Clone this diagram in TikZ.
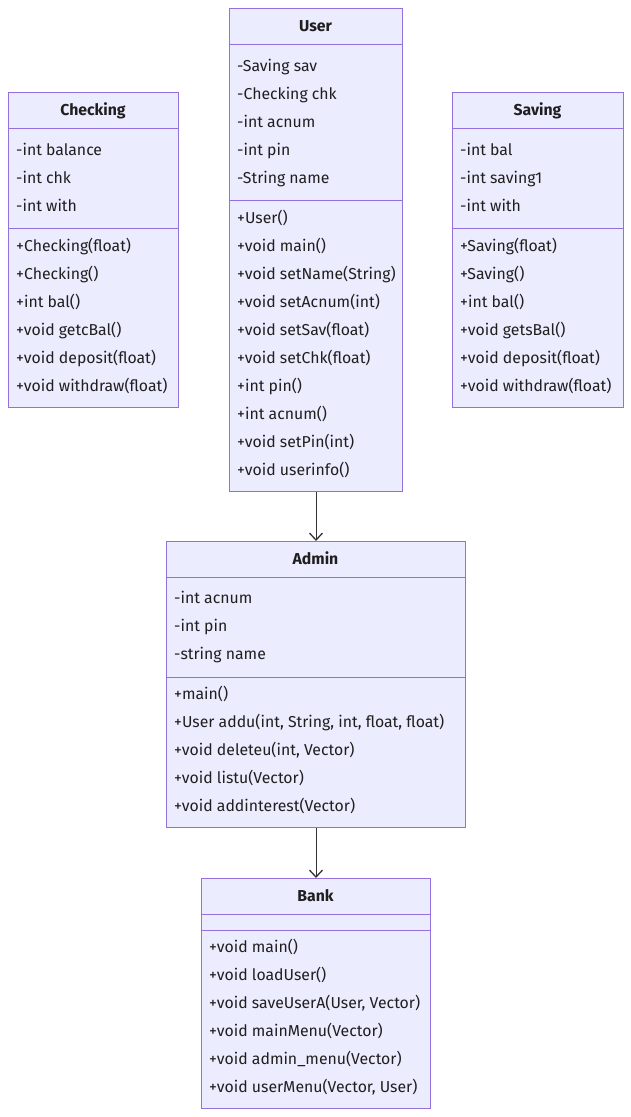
\documentclass[tikz,border=0pt]{standalone}
\usepackage{fontspec}
\setmainfont{Fira Sans}
\usetikzlibrary{arrows.meta}
\definecolor{boxfill}{HTML}{ECECFF}
\definecolor{boxline}{HTML}{9370DB}
\definecolor{txt}{HTML}{1F1F1F}
\definecolor{edge}{HTML}{333333}
\tikzset{
  classbox/.style={draw=boxline, fill=boxfill, line width=1pt, inner sep=0pt, anchor=north west},
  divline/.style={draw=boxline, line width=1pt},
  member/.style={anchor=base west, inner sep=0pt, text=txt, font=\fontsize{15.8}{18}\selectfont},
  ctitle/.style={anchor=base, inner sep=0pt, text=txt, font=\fontsize{15.8}{18}\selectfont\bfseries},
  rel/.style={draw=edge, line width=0.9pt, -{Straight Barb[length=7pt,width=13pt,line width=1.3pt]}}
}
\begin{document}
\begin{tikzpicture}[x=1pt,y=-1pt]
\useasboundingbox (0,0) rectangle (631,1117);
% Checking
\node[classbox, minimum width=170pt, minimum height=315pt] (checking) at (8,92) {};
\draw[divline] (8,128) -- (178,128);
\draw[divline] (8,228) -- (178,228);
\node[ctitle] (checkingT) at (93,115) {Checking};
\node[member] (c1) at (16,155) {-int balance};
\node[member] (c2) at (16,183) {-int chk};
\node[member] (c3) at (16,211) {-int with};
\node[member] (c4) at (16,251) {+Checking(float)};
\node[member] (c5) at (16,279) {+Checking()};
\node[member] (c6) at (16,307) {+int bal()};
\node[member] (c7) at (16,335) {+void getcBal()};
\node[member] (c8) at (16,363) {+void deposit(float)};
\node[member] (c9) at (16,391) {+void withdraw(float)};
% User
\node[classbox, minimum width=173pt, minimum height=483pt] (user) at (229,8) {};
\draw[divline] (229,44) -- (402,44);
\draw[divline] (229,200) -- (402,200);
\node[ctitle] (userT) at (315.5,31) {User};
\node[member] (u1) at (237,71) {-Saving sav};
\node[member] (u2) at (237,99) {-Checking chk};
\node[member] (u3) at (237,127) {-int acnum};
\node[member] (u4) at (237,155) {-int pin};
\node[member] (u5) at (237,183) {-String name};
\node[member] (u6) at (237,223) {+User()};
\node[member] (u7) at (237,251) {+void main()};
\node[member] (u8) at (237,279) {+void setName(String)};
\node[member] (u9) at (237,307) {+void setAcnum(int)};
\node[member] (u10) at (237,335) {+void setSav(float)};
\node[member] (u11) at (237,363) {+void setChk(float)};
\node[member] (u12) at (237,391) {+int pin()};
\node[member] (u13) at (237,419) {+int acnum()};
\node[member] (u14) at (237,447) {+void setPin(int)};
\node[member] (u15) at (237,475) {+void userinfo()};
% Saving
\node[classbox, minimum width=171pt, minimum height=315pt] (saving) at (452,92) {};
\draw[divline] (452,128) -- (623,128);
\draw[divline] (452,228) -- (623,228);
\node[ctitle] (savingT) at (537.5,115) {Saving};
\node[member] (s1) at (460,155) {-int bal};
\node[member] (s2) at (460,183) {-int saving1};
\node[member] (s3) at (460,211) {-int with};
\node[member] (s4) at (460,251) {+Saving(float)};
\node[member] (s5) at (460,279) {+Saving()};
\node[member] (s6) at (460,307) {+int bal()};
\node[member] (s7) at (460,335) {+void getsBal()};
\node[member] (s8) at (460,363) {+void deposit(float)};
\node[member] (s9) at (460,391) {+void withdraw(float)};
% Admin
\node[classbox, minimum width=299pt, minimum height=286pt] (admin) at (166,541) {};
\draw[divline] (166,577) -- (465,577);
\draw[divline] (166,677) -- (465,677);
\node[ctitle] (adminT) at (315.5,564) {Admin};
\node[member] (a1) at (174,603) {-int acnum};
\node[member] (a2) at (174,631) {-int pin};
\node[member] (a3) at (174,659) {-string name};
\node[member] (a4) at (174,699) {+main()};
\node[member] (a5) at (174,727) {+User addu(int, String, int, float, float)};
\node[member] (a6) at (174,755) {+void deleteu(int, Vector)};
\node[member] (a7) at (174,783) {+void listu(Vector)};
\node[member] (a8) at (174,811) {+void addinterest(Vector)};
% Bank
\node[classbox, minimum width=229pt, minimum height=230pt] (bank) at (201,878) {};
\draw[divline] (201,914) -- (430,914);
\draw[divline] (201,930) -- (430,930);
\node[ctitle] (bankT) at (315.5,901) {Bank};
\node[member] (b1) at (209,952) {+void main()};
\node[member] (b2) at (209,980) {+void loadUser()};
\node[member] (b3) at (209,1008) {+void saveUserA(User, Vector)};
\node[member] (b4) at (209,1036) {+void mainMenu(Vector)};
\node[member] (b5) at (209,1064) {+void admin\_menu(Vector)};
\node[member] (b6) at (209,1092) {+void userMenu(Vector, User)};
% relations
\draw[rel] (user.south) -- (admin.north);
\draw[rel] (admin.south) -- (bank.north);
\end{tikzpicture}
\end{document}
